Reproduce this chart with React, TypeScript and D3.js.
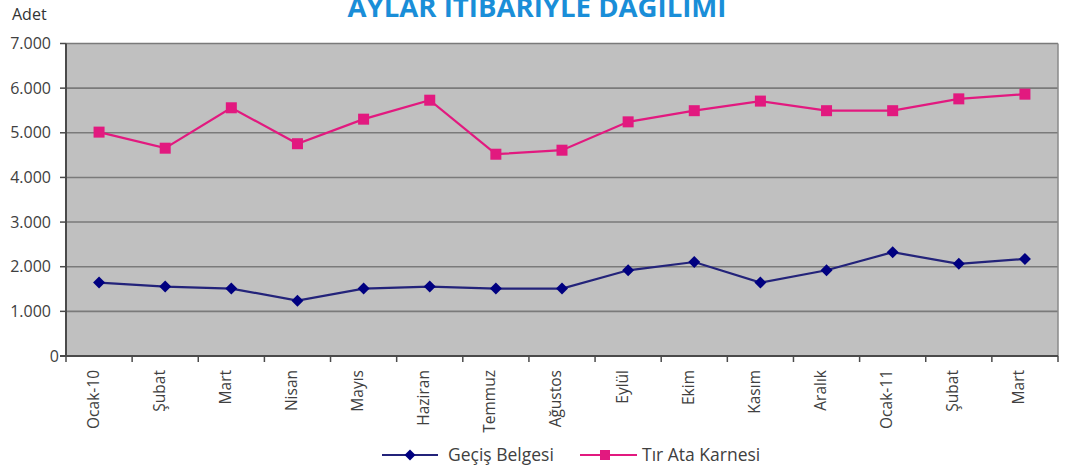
import React from "react";
import * as d3 from "d3";

const categories = ["Ocak-10", "Şubat", "Mart", "Nisan", "Mayıs", "Haziran", "Temmuz", "Ağustos", "Eylül", "Ekim", "Kasım", "Aralık", "Ocak-11", "Şubat", "Mart"];
const gecisBelgesi = [1645, 1555, 1510, 1240, 1510, 1555, 1510, 1510, 1920, 2105, 1645, 1920, 2325, 2065, 2175];
const tirAtaKarnesi = [5015, 4655, 5560, 4755, 5305, 5730, 4520, 4610, 5245, 5495, 5710, 5495, 5495, 5760, 5865];
const yTicks = [0, 1000, 2000, 3000, 4000, 5000, 6000, 7000];
const seriesNames = ["Geçiş Belgesi", "Tır Ata Karnesi"];
const title = "AYLAR ITIBARIYLE DAGILIMI";
const yUnit = "Adet";

const W = 1084, H = 472;
const L = 66, R = 1058, T = 43.5, B = 356;
const FONT = "'Open Sans', 'Noto Sans', sans-serif";
const NAVY = "#000080";
const NAVY_LINE = "#23237a";
const PINK = "#e2197f";

export default function App() {
  const x = d3.scaleBand<number>().domain(categories.map((_, i) => i)).range([L, R]);
  const y = d3.scaleLinear().domain([0, 7000]).range([B, T]);
  const fmt = d3.formatLocale({ decimal: ",", thousands: ".", grouping: [3], currency: ["", ""] }).format(",d");
  const cx = (i: number) => (x(i) as number) + x.bandwidth() / 2;
  const line = d3.line<number>().x((_, i) => cx(i)).y((d) => y(d));
  const diamond = (px: number, py: number, r: number) => `M${px},${py - r}L${px + r},${py}L${px},${py + r}L${px - r},${py}Z`;

  return (
    <svg width={W} height={H} style={{ position: "absolute", left: 0, top: 0, background: "#fff" }} fontFamily={FONT}>
      <text x={537} y={17} textAnchor="middle" fontSize={26} fontWeight={700} fill="#1a8ed8" textLength={379} lengthAdjust="spacingAndGlyphs">{title}</text>
      <text x={12} y={20} fontSize={16} fill="#333">{yUnit}</text>

      <rect x={L} y={T} width={R - L} height={B - T} fill="#c0c0c0" />
      {yTicks.filter((t) => t > 0).map((t) => (
        <line key={t} x1={L} x2={R} y1={y(t)} y2={y(t)} stroke="#7a7a7a" strokeWidth={1.6} />
      ))}
      <line x1={R} x2={R} y1={T} y2={B} stroke="#8a8a8a" strokeWidth={1.5} />
      <line x1={L} x2={L} y1={T} y2={B} stroke="#4a4a4a" strokeWidth={2} />
      <line x1={L - 6} x2={R} y1={B} y2={B} stroke="#4a4a4a" strokeWidth={2} />
      {yTicks.map((t) => (
        <g key={t}>
          <line x1={L - 6} x2={L} y1={y(t)} y2={y(t)} stroke="#4a4a4a" strokeWidth={1.5} />
          <text x={t === 0 ? 59 : 51} y={y(t)} dy="0.35em" textAnchor="end" fontSize={16} fill="#404040">{fmt(t)}</text>
        </g>
      ))}
      {d3.range(categories.length + 1).map((i) => (
        <line key={i} x1={L + i * x.bandwidth()} x2={L + i * x.bandwidth()} y1={B} y2={B + 6} stroke="#4a4a4a" strokeWidth={1.5} />
      ))}
      {categories.map((c, i) => (
        <text key={i} transform={`translate(${cx(i) - 6},${B + 14}) rotate(-90)`} textAnchor="end" dy="0.35em" fontSize={15.5} fill="#404040">{c}</text>
      ))}

      <path d={line(gecisBelgesi) || ""} fill="none" stroke={NAVY_LINE} strokeWidth={2.2} />
      {gecisBelgesi.map((v, i) => (
        <path key={i} d={diamond(cx(i), y(v), 6)} fill={NAVY} />
      ))}
      <path d={line(tirAtaKarnesi) || ""} fill="none" stroke={PINK} strokeWidth={2.2} />
      {tirAtaKarnesi.map((v, i) => (
        <rect key={i} x={cx(i) - 5.5} y={y(v) - 5.5} width={11} height={11} fill={PINK} />
      ))}

      <g>
        <line x1={382} x2={438} y1={455} y2={455} stroke={NAVY_LINE} strokeWidth={2.2} />
        <path d={diamond(410, 455, 5.5)} fill={NAVY} />
        <text x={448} y={455} dy="0.35em" fontSize={17.5} fill="#404040">{seriesNames[0]}</text>
        <line x1={580} x2={637} y1={455} y2={455} stroke={PINK} strokeWidth={2.2} />
        <rect x={600} y={450} width={10} height={10} fill={PINK} />
        <text x={642} y={455} dy="0.35em" fontSize={17.5} fill="#404040">{seriesNames[1]}</text>
      </g>
    </svg>
  );
}
